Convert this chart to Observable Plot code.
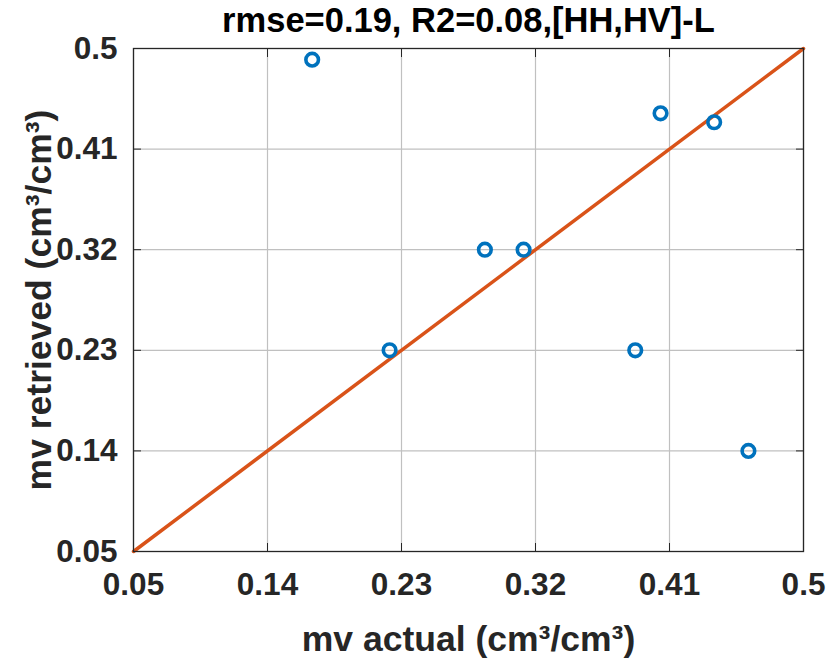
<!DOCTYPE html>
<html>
<head>
<meta charset="utf-8">
<script src="https://cdn.jsdelivr.net/npm/d3@7"></script>
<script src="https://cdn.jsdelivr.net/npm/@observablehq/plot@0.6"></script>
<style>html,body{margin:0;padding:0;background:#fff}</style>
</head>
<body>
<div id="chart"></div>
<script>
const titleText = "rmse=0.19, R2=0.08,[HH,HV]-L";
const xLabel = "mv actual (cm³/cm³)";
const yLabel = "mv retrieved (cm³/cm³)";
const tickValues = [0.05, 0.14, 0.23, 0.32, 0.41, 0.5];
const tickLabels = ["0.05", "0.14", "0.23", "0.32", "0.41", "0.5"];
const mvActual = [0.170, 0.404, 0.440, 0.286, 0.312, 0.222, 0.387, 0.463];
const mvRetrieved = [0.490, 0.442, 0.434, 0.320, 0.320, 0.230, 0.230, 0.140];
const lineX = [0.05, 0.5];
const lineY = [0.05, 0.5];

const points = mvActual.map((x, i) => ({x, y: mvRetrieved[i]}));
const linePts = lineX.map((x, i) => ({x, y: lineY[i]}));
const fmt = d => tickLabels[tickValues.indexOf(d)];
const blank = () => "";
const ink = "#262626";

const chart = Plot.plot({
  width: 829,
  height: 661,
  marginLeft: 133,
  marginRight: 26,
  marginTop: 48,
  marginBottom: 110,
  style: {fontFamily: "'Liberation Sans', Arial, sans-serif", fontWeight: "bold", background: "white", color: ink},
  x: {domain: [0.05, 0.5]},
  y: {domain: [0.05, 0.5]},
  marks: [
    Plot.gridX(tickValues, {stroke: "#c0c0c0", strokeOpacity: 1, strokeWidth: 1.2}),
    Plot.gridY(tickValues, {stroke: "#c0c0c0", strokeOpacity: 1, strokeWidth: 1.2}),
    Plot.line(linePts, {x: "x", y: "y", stroke: "#D95319", strokeWidth: 3.5}),
    Plot.dot(points, {x: "x", y: "y", r: 6.3, stroke: "#0072BD", strokeWidth: 3.6, fill: "none"}),
    Plot.frame({stroke: ink, strokeWidth: 1.3}),
    Plot.axisX(tickValues, {anchor: "bottom", tickSize: 8, dy: -8, tickFormat: blank, label: null, stroke: ink}),
    Plot.axisX(tickValues, {anchor: "top", tickSize: 8, dy: 8, tickFormat: blank, label: null, stroke: ink}),
    Plot.axisY(tickValues, {anchor: "left", tickSize: 8, dx: 8, tickFormat: blank, label: null, stroke: ink}),
    Plot.axisY(tickValues, {anchor: "right", tickSize: 8, dx: -8, tickFormat: blank, label: null, stroke: ink}),
    Plot.axisX(tickValues, {anchor: "bottom", tickSize: 0, tickPadding: 21.5, tickFormat: fmt, label: null, fontSize: 31.5, fill: ink}),
    Plot.axisY(tickValues, {anchor: "left", tickSize: 0, tickPadding: 16, tickFormat: fmt, label: null, fontSize: 31.5, fill: ink}),
    Plot.text([xLabel], {text: d => d, frameAnchor: "bottom", dy: 99, lineAnchor: "bottom", textAnchor: "middle", fontSize: 35.5, fill: ink}),
    Plot.text([yLabel], {text: d => d, frameAnchor: "left", rotate: -90, dx: -83, lineAnchor: "bottom", textAnchor: "middle", fontSize: 35.5, fill: ink}),
    Plot.text([titleText], {text: d => d, frameAnchor: "top", dy: -17, lineAnchor: "bottom", textAnchor: "middle", fontSize: 34.5, fill: "black"})
  ]
});
document.getElementById("chart").appendChild(chart);
</script>
</body>
</html>
